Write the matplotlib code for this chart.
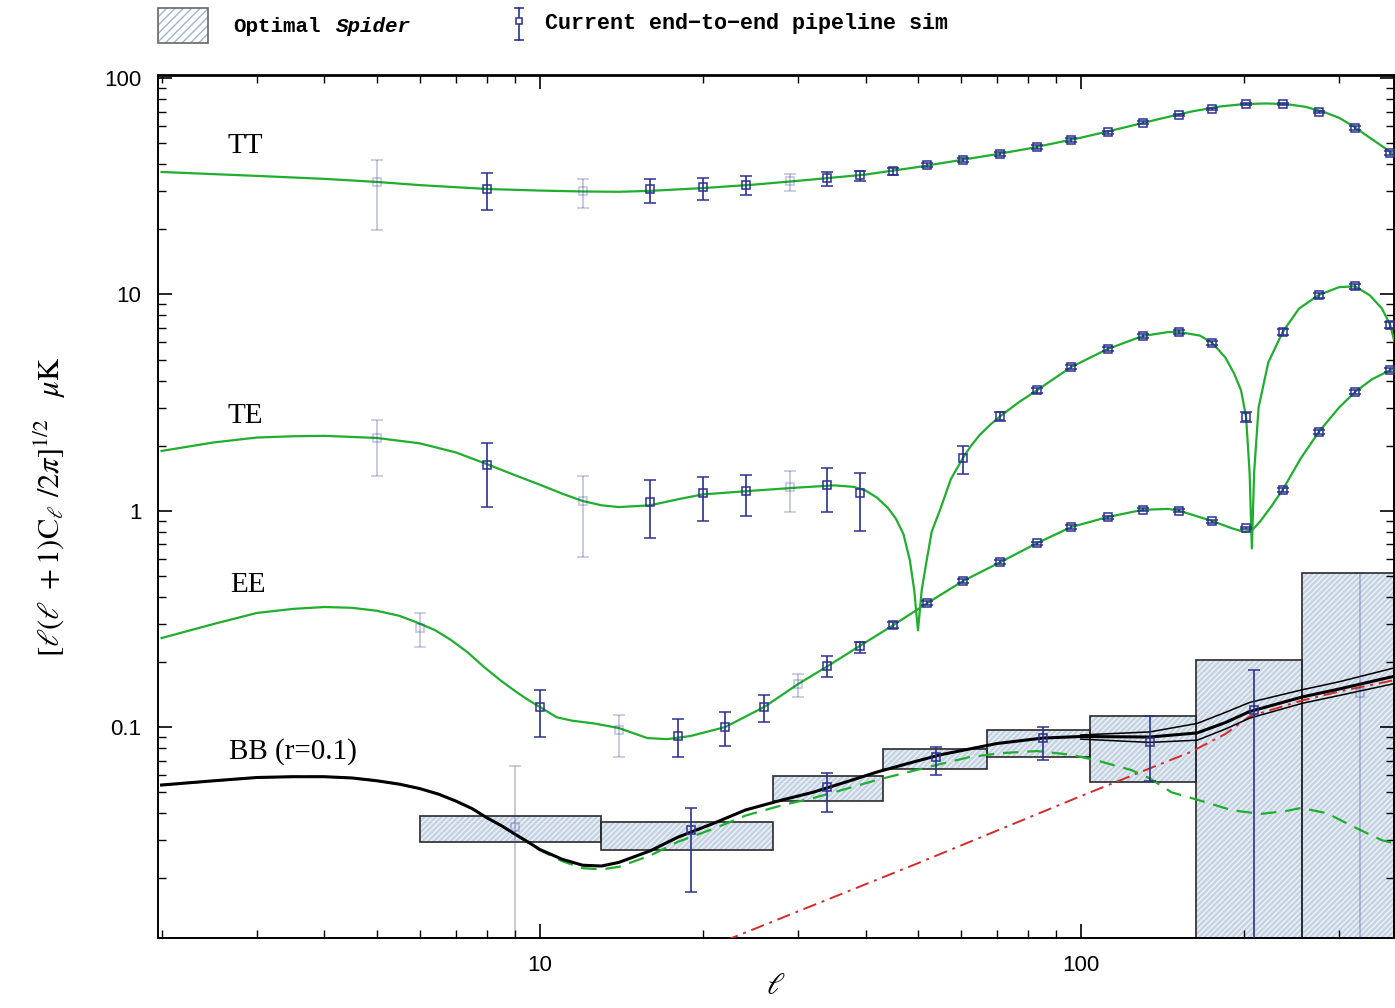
import numpy as np
import matplotlib
matplotlib.use("Agg")
import matplotlib.pyplot as plt
from matplotlib.patches import Rectangle
from matplotlib.lines import Line2D
from matplotlib.ticker import LogLocator, FuncFormatter, NullFormatter

plt.rcParams["mathtext.fontset"] = "stix"
plt.rcParams["hatch.linewidth"] = 1.0

# ---- theory curves ----
tt_ell = [2, 3, 4, 5, 6, 8, 10, 12, 14, 16, 20, 25, 30, 40, 50, 60, 70, 80, 100,
          120, 140, 160, 180, 200, 220, 240, 260, 280, 300, 320, 340, 360, 380]
tt_cl = [36.8, 35.3, 34.2, 33.1, 32.0, 30.7, 30.2, 29.9, 29.8, 30.1, 31.0, 32.2, 33.5,
         35.8, 38.8, 41.8, 44.5, 47.2, 53.0, 59.0, 64.8, 70.0, 73.8, 75.8, 76.3, 75.8,
         73.6, 70.0, 65.5, 59.5, 53.5, 48.5, 44.0]

te_ell = [2, 2.5, 3, 3.5, 4, 5, 6, 7, 8, 9, 10, 11, 12, 13, 14, 16, 18, 20, 25, 30, 35,
          38, 40, 42, 44, 45.5, 47, 48.3, 49.2, 50.0, 50.8, 51.7, 53, 55, 57.5, 60.5,
          62.5, 65, 68, 71, 77, 83, 96, 112, 130, 145, 152, 166, 175, 185, 192, 197.7,
          202, 205, 207, 209, 213, 222, 236, 253, 275, 300, 321, 342, 360, 373, 380]
te_cl = [1.89, 2.07, 2.18, 2.21, 2.22, 2.17, 2.05, 1.86, 1.64, 1.46, 1.32, 1.20, 1.11,
         1.06, 1.04, 1.06, 1.13, 1.19, 1.24, 1.28, 1.31, 1.29, 1.24, 1.15, 1.03, 0.92,
         0.78, 0.59, 0.43, 0.28, 0.43, 0.56, 0.80, 1.02, 1.40, 1.75, 1.98, 2.24, 2.50,
         2.74, 3.19, 3.61, 4.62, 5.59, 6.42, 6.70, 6.70, 6.45, 5.96, 5.1, 4.3, 3.6, 2.7,
         1.5, 0.67, 1.5, 3.0, 4.85, 6.70, 8.6, 9.93, 10.8, 10.9, 9.9, 8.6, 7.22, 6.0]

ee_ell = [2, 2.5, 3, 3.5, 4, 4.5, 5, 5.5, 5.9, 6.4, 6.85, 7.35, 7.9, 8.5, 9.1, 9.5, 10,
          10.75, 11.5, 12.6, 14, 15.8, 17.2, 19, 22, 26, 30, 34, 39, 45, 52, 60.5, 71,
          83, 96, 112, 130, 145, 152, 175, 190, 200, 207, 215, 225, 236, 255, 275, 300,
          321, 345, 373, 380]
ee_cl = [0.258, 0.30, 0.337, 0.352, 0.359, 0.356, 0.345, 0.327, 0.306, 0.281, 0.253,
         0.222, 0.189, 0.163, 0.144, 0.134, 0.124, 0.111, 0.107, 0.104, 0.099, 0.089,
         0.088, 0.091, 0.100, 0.124, 0.158, 0.191, 0.237, 0.296, 0.374, 0.473, 0.579,
         0.709, 0.841, 0.935, 1.01, 1.02, 1.0, 0.896, 0.83, 0.80, 0.81, 0.90, 1.05,
         1.25, 1.75, 2.31, 3.0, 3.54, 4.05, 4.47, 4.55]

bb_ell = [2, 2.5, 3, 3.5, 4, 4.5, 5, 5.5, 6, 6.5, 7, 7.5, 8, 8.5, 9, 9.5, 10, 11, 12,
          13, 14, 16, 18, 21, 24, 28, 32, 37, 42, 48, 55, 70, 85, 100, 134, 164, 185,
          205, 257, 300, 380]
bb_cl = [0.054, 0.0565, 0.0585, 0.059, 0.059, 0.0582, 0.0565, 0.0545, 0.052, 0.049,
         0.0455, 0.042, 0.038, 0.035, 0.032, 0.0295, 0.0272, 0.0245, 0.023, 0.0228,
         0.0237, 0.0268, 0.031, 0.036, 0.0414, 0.046, 0.050, 0.056, 0.062, 0.068,
         0.0745, 0.084, 0.089, 0.0905, 0.090, 0.094, 0.105, 0.118, 0.138, 0.150, 0.172]

band_ell = [100, 134, 164, 185, 205, 257, 300, 380]
band_hi = [0.092, 0.095, 0.104, 0.117, 0.130, 0.149, 0.162, 0.188]
band_lo = [0.088, 0.085, 0.087, 0.098, 0.110, 0.129, 0.140, 0.159]

bbr_ell = [2, 2.5, 3, 3.5, 4, 4.5, 5, 5.5, 6, 6.5, 7, 7.5, 8, 8.5, 9, 9.5, 10, 11, 12,
           13, 14, 16, 18, 21, 24, 28, 32, 37, 42, 48, 55, 62, 71, 83, 96, 108, 124, 134,
           147, 170, 190, 215, 240, 255, 285, 320, 360, 380]
bbr_cl = [0.054, 0.0565, 0.0585, 0.059, 0.059, 0.0582, 0.0565, 0.0545, 0.052, 0.049,
          0.0455, 0.042, 0.038, 0.035, 0.032, 0.0293, 0.027, 0.024, 0.0223, 0.022,
          0.0226, 0.0255, 0.0295, 0.034, 0.039, 0.0435, 0.047, 0.052, 0.057, 0.062,
          0.0675, 0.0725, 0.0758, 0.0775, 0.0745, 0.0697, 0.0633, 0.058, 0.050, 0.045,
          0.0413, 0.0397, 0.041, 0.0423, 0.040, 0.0345, 0.030, 0.029]

lens_ell = [22, 50, 100, 160, 185, 205, 257, 300, 380]
lens_cl = [0.0103, 0.0235, 0.048, 0.077, 0.093, 0.112, 0.133, 0.146, 0.165]

# ---- simulated band powers ----
tt_ell_d = [5, 8, 12, 16, 20, 24, 29, 34, 39, 45, 52, 60.5, 71, 83, 96, 112, 130, 152,
            175, 202, 236, 275, 321, 373]
tt_d = [33.1, 30.7, 30.0, 30.6, 31.4, 32.0, 33.4, 34.5, 35.6, 37.2, 39.6, 41.8, 44.6,
        48.0, 51.7, 56.3, 62.0, 67.5, 72.0, 75.9, 75.9, 69.7, 58.8, 45.1]
tt_hi = [41.8, 36.4, 34.2, 34.2, 34.5, 35.3, 36.0, 36.6, 37.0, 38.2, 40.4, 42.6, 45.4,
         48.8, 52.6, 57.2, 63.0, 68.5, 73.0, 77.0, 77.0, 70.7, 59.8, 46.0]
tt_lo = [19.9, 24.5, 25.1, 26.5, 27.3, 28.8, 30.1, 31.7, 33.6, 35.8, 38.6, 40.8, 43.6,
         47.0, 50.8, 55.4, 61.0, 66.5, 71.0, 74.8, 74.8, 68.7, 57.8, 44.2]
tt_faded = [5, 12, 29]

te_ell_d = [5, 8, 12, 16, 20, 24, 29, 34, 39, 60.5, 71, 83, 96, 112, 130, 152, 175,
            202, 236, 275, 321, 373]
te_d = [2.17, 1.63, 1.11, 1.10, 1.21, 1.23, 1.29, 1.31, 1.21, 1.75, 2.74, 3.61, 4.62,
        5.59, 6.42, 6.70, 5.96, 2.71, 6.70, 9.93, 10.9, 7.22]
te_hi = [2.63, 2.06, 1.45, 1.39, 1.43, 1.46, 1.53, 1.58, 1.49, 1.99, 2.85, 3.70, 4.72,
         5.70, 6.55, 6.85, 6.10, 2.85, 6.90, 10.2, 11.2, 7.45]
te_lo = [1.45, 1.04, 0.61, 0.75, 0.90, 0.945, 0.99, 0.99, 0.81, 1.48, 2.60, 3.52, 4.52,
         5.48, 6.30, 6.55, 5.82, 2.57, 6.50, 9.65, 10.6, 7.00]
te_faded = [5, 12, 29]

ee_ell_d = [6, 10, 14, 18, 22, 26, 30, 34, 39, 45, 52, 60.5, 71, 83, 96, 112, 130, 152,
            175, 202, 236, 275, 321, 373]
ee_d = [0.287, 0.124, 0.097, 0.091, 0.100, 0.124, 0.158, 0.191, 0.237, 0.296, 0.374,
        0.473, 0.579, 0.709, 0.841, 0.935, 1.01, 1.0, 0.896, 0.832, 1.246, 2.31, 3.54, 4.47]
ee_hi = [0.336, 0.148, 0.114, 0.109, 0.117, 0.141, 0.176, 0.213, 0.247, 0.305, 0.383,
         0.483, 0.59, 0.72, 0.855, 0.95, 1.025, 1.015, 0.91, 0.845, 1.27, 2.35, 3.6, 4.55]
ee_lo = [0.234, 0.090, 0.073, 0.073, 0.082, 0.1055, 0.138, 0.170, 0.220, 0.287, 0.365,
         0.463, 0.568, 0.698, 0.827, 0.92, 0.995, 0.985, 0.882, 0.82, 1.22, 2.27, 3.48, 4.40]
ee_faded = [6, 14, 30]

bb_ell_d = [9, 19, 34, 54, 85, 134, 209, 328]
bb_d = [0.0345, 0.0334, 0.0528, 0.0727, 0.0889, 0.0852, 0.120, 0.144]
bb_hi = [0.066, 0.0422, 0.0613, 0.0808, 0.100, 0.1124, 0.183, 0.515]
bb_lo = [0.003, 0.0173, 0.0405, 0.060, 0.0704, 0.0563, 0.003, 0.003]
bb_faded = [9, 328]

# optimal Spider BB bins
box_ell_lo = [6, 13, 27, 43, 67, 104, 163, 256]
box_ell_hi = [13, 27, 43, 67, 104, 163, 256, 420]
box_lo = [0.0294, 0.0270, 0.0455, 0.0640, 0.0727, 0.0557, 0.005, 0.005]
box_hi = [0.0388, 0.0364, 0.0593, 0.0791, 0.0969, 0.1124, 0.204, 0.515]

GREEN = "#1fae2e"
NAVY = "#2b318f"
RED = "#d42a2a"
BOX_FACE = "#c5d3e2"
BOX_HATCH = "#eef3f8"

W, H = 1395, 1008
fig = plt.figure(figsize=(W / 100, H / 100), dpi=100)
ax = fig.add_axes([158 / W, 1 - 938 / H, (1394 - 158) / W, (938 - 75) / H])
ax.set_xscale("log")
ax.set_yscale("log")
ax.set_xlim(1.97, 379)
ax.set_ylim(0.0106, 103.3)

# bins
for l0, l1, lo, hi in zip(box_ell_lo, box_ell_hi, box_lo, box_hi):
    ax.add_patch(Rectangle((l0, lo), l1 - l0, hi - lo, facecolor=BOX_FACE,
                           edgecolor="none", zorder=1))
    ax.add_patch(Rectangle((l0, lo), l1 - l0, hi - lo, facecolor="none",
                           edgecolor=BOX_HATCH, hatch="//////", linewidth=0, zorder=1.1))
    ax.add_patch(Rectangle((l0, lo), l1 - l0, hi - lo, facecolor="none",
                           edgecolor="#2a2a2a", linewidth=1.2, zorder=1.2))

# theory
ax.plot(tt_ell, tt_cl, color=GREEN, lw=1.6, zorder=3)
ax.plot(te_ell, te_cl, color=GREEN, lw=1.6, zorder=3)
ax.plot(ee_ell, ee_cl, color=GREEN, lw=1.6, zorder=3)
ax.plot(lens_ell, lens_cl, color=RED, lw=1.4, ls=(0, (7, 3, 1.5, 3)), zorder=3)
ax.plot(bbr_ell, bbr_cl, color=GREEN, lw=1.6, ls=(0, (7, 4)), zorder=3)
ax.plot(band_ell, band_hi, color="black", lw=1.1, zorder=4)
ax.plot(band_ell, band_lo, color="black", lw=1.1, zorder=4)
ax.plot(bb_ell, bb_cl, color="black", lw=2.2, zorder=4)


def draw_points(ell, val, lo, hi, faded):
    ell, val, lo, hi = map(np.asarray, (ell, val, lo, hi))
    mask = np.isin(ell, faded)
    for m, a in ((~mask, 1.0), (mask, 0.3)):
        if not m.any():
            continue
        ax.errorbar(ell[m], val[m], yerr=[val[m] - lo[m], hi[m] - val[m]], fmt="s",
                    mfc="none", mec=NAVY, ms=5.5, mew=1.1, ecolor=NAVY, elinewidth=1.2,
                    capsize=4.5, capthick=1.2, alpha=a, zorder=6)


draw_points(tt_ell_d, tt_d, tt_lo, tt_hi, tt_faded)
draw_points(te_ell_d, te_d, te_lo, te_hi, te_faded)
draw_points(ee_ell_d, ee_d, ee_lo, ee_hi, ee_faded)
draw_points(bb_ell_d, bb_d, bb_lo, bb_hi, bb_faded)

# spectrum labels
serif = ["Liberation Serif", "DejaVu Serif"]
ax.text(2.65, 48.5, "TT", family=serif, fontsize=21, va="center")
ax.text(2.65, 2.74, "TE", family=serif, fontsize=21, va="center")
ax.text(2.68, 0.453, "EE", family=serif, fontsize=21, va="center")
ax.text(2.67, 0.0775, "BB (r=0.1)", family=serif, fontsize=21, va="center")

# axes styling
for s in ax.spines.values():
    s.set_linewidth(1.4)
ax.spines["top"].set_linewidth(2.0)
ax.tick_params(which="both", direction="in", top=True, right=True)
ax.tick_params(which="major", length=10, width=1.2, pad=12, labelsize=16)
ax.tick_params(which="minor", length=6, width=1.0)
ax.yaxis.set_major_locator(LogLocator(base=10))
ax.yaxis.set_major_formatter(FuncFormatter(lambda v, p: f"{v:g}"))
ax.xaxis.set_major_formatter(FuncFormatter(lambda v, p: f"{v:g}"))
ax.xaxis.set_minor_formatter(NullFormatter())
ax.yaxis.set_minor_formatter(NullFormatter())
for lab in ax.get_xticklabels() + ax.get_yticklabels():
    lab.set_family(["Liberation Sans", "DejaVu Sans"])

ax.set_ylabel(r"$[\ell(\ell\ +1)\mathrm{C}_\ell\ /2\pi]^{1/2}\ \ \ \mu\mathrm{K}$",
              fontsize=22, labelpad=26)
ax.set_xlabel(r"$\ell$", fontsize=22, labelpad=-3)

# legend drawn above the axes
fig.add_artist(Rectangle((158 / W, 1 - 43 / H), 50 / W, 35 / H, transform=fig.transFigure,
                         facecolor="white", edgecolor="#9fb4cc", hatch="////", lw=0))
fig.add_artist(Rectangle((158 / W, 1 - 43 / H), 50 / W, 35 / H, transform=fig.transFigure,
                         facecolor="none", edgecolor="#666666", lw=1.2))
mono = ["Liberation Mono", "DejaVu Sans Mono"]
fig.text(233 / W, 1 - 26 / H, "Optimal", family=mono, weight="bold", fontsize=15, va="center")
fig.text(336 / W, 1 - 26 / H, "Spider", family=mono, weight="bold", style="italic",
         fontsize=15, va="center")
x0 = 519 / W
fig.add_artist(Line2D([x0, x0], [1 - 8 / H, 1 - 40 / H], transform=fig.transFigure,
                      color=NAVY, lw=1.2))
for yy in (8, 40):
    fig.add_artist(Line2D([x0 - 4 / W, x0 + 4 / W], [1 - yy / H] * 2,
                          transform=fig.transFigure, color=NAVY, lw=1.2))
fig.add_artist(Line2D([x0], [1 - 21 / H], transform=fig.transFigure, marker="s", ms=5,
                      mfc="white", mec=NAVY, mew=1.1, lw=0))
fig.text(545 / W, 1 - 24 / H, "Current end\u2212to\u2212end pipeline sim", family=mono,
         weight="bold", fontsize=15.7, va="center")

fig.savefig("out.png", dpi=100)
